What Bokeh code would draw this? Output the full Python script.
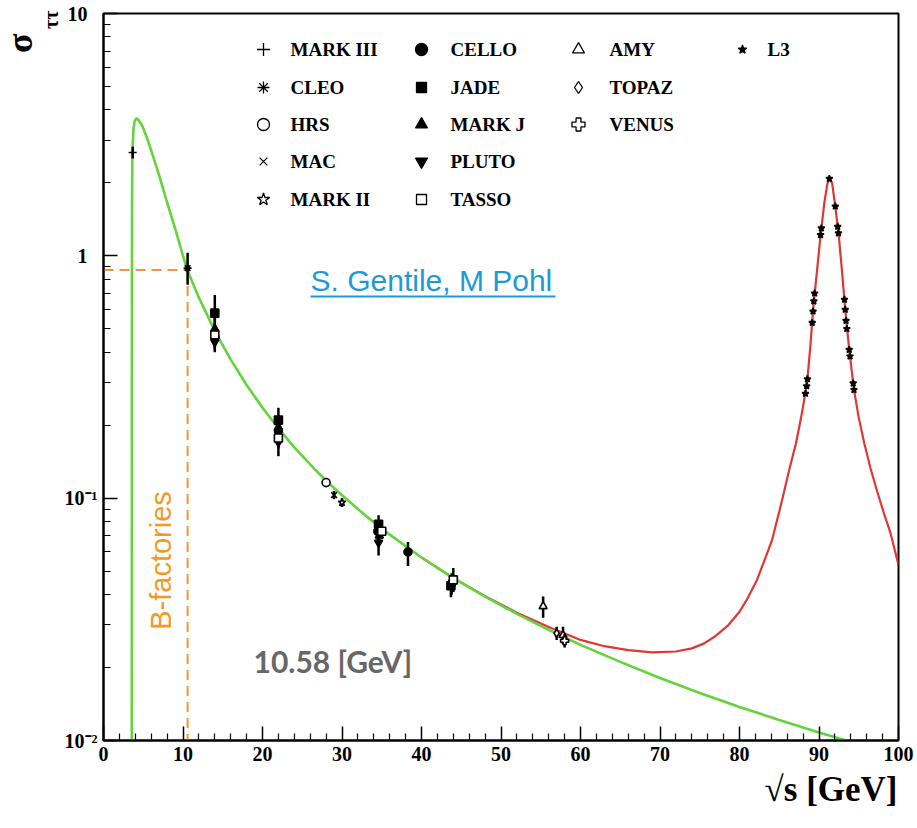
import math
from bokeh.plotting import figure
from bokeh.models import FixedTicker, Label, CustomJSTickFormatter, Title
from bokeh.embed import file_html
from bokeh.resources import INLINE

# ---------------- curves ----------------
QED_E = [3.555, 3.565, 3.575, 3.59, 3.62, 3.68, 3.78, 3.92, 4.15, 4.45, 4.86, 5.5, 6.0,
         7.0, 8.0, 9.0, 10.0, 10.58, 12.0, 14.0, 16.0, 18.0, 20.0, 22.0, 24.0, 26.5,
         28.0, 30.0, 33.0, 36.0, 40.0, 44.0, 48.0, 52.0, 56.0, 60.0, 65.0, 70.0, 75.0,
         80.0, 85.0, 90.0, 93.0, 95.0]
QED_SIGMA = [0.005, 0.2, 0.9, 1.6, 2.4, 2.9, 3.35, 3.6, 3.70, 3.62, 3.45, 3.05, 2.72,
             2.15, 1.66, 1.30, 1.0, 0.87, 0.672, 0.49, 0.373, 0.293, 0.236, 0.194, 0.162, 0.1325,
             0.118, 0.1028, 0.0845, 0.0707, 0.0569, 0.0468, 0.0392, 0.0333, 0.0286, 0.0248,
             0.0211, 0.0181, 0.0157, 0.01375, 0.01216, 0.0108, 0.0101, 0.00965]

Z_E = [40.0, 44.0, 48.0, 52.0, 56.0, 60.0, 63.0, 66.0, 69.0, 72.0, 74.0, 75.5, 77.0, 78.5,
       80.0, 81.0, 82.2, 83.2, 84.1, 85.0, 85.6, 86.3, 87.1, 87.8, 88.5, 88.9, 89.3, 89.8,
       90.2, 90.7, 91.05, 91.35, 91.65, 92.1, 92.5, 92.9, 93.3, 93.8, 94.4, 95.0, 95.7,
       96.5, 97.3, 98.2, 99.0, 100.0]
Z_SIGMA = [0.0569, 0.0469, 0.0394, 0.0337, 0.0294, 0.0260, 0.0245, 0.0236, 0.0231, 0.0233,
           0.0240, 0.0251, 0.0270, 0.0297, 0.0340, 0.0385, 0.0460, 0.0560, 0.0673, 0.088,
           0.106, 0.133, 0.168, 0.22, 0.298, 0.42, 0.62, 0.90, 1.22, 1.68, 1.98, 2.09, 2.0,
           1.55, 1.20, 0.86, 0.60, 0.41, 0.28, 0.215, 0.168, 0.132, 0.107, 0.086, 0.0717, 0.053]

BFAC_E = 10.58
BFAC_SIGMA = 0.875

# ---------------- measurements (sqrt(s), sigma, error low, error high) ----------------
MARK3_E, MARK3_S, MARK3_LO, MARK3_HI = [3.67], [2.67], [2.52], [2.82]
CLEO_E, CLEO_S, CLEO_LO, CLEO_HI = [10.58], [0.89], [0.76], [1.03]
HRS_E, HRS_S, HRS_LO, HRS_HI = [28.0], [0.116], [0.111], [0.121]
MAC_E, MAC_S, MAC_LO, MAC_HI = [29.0], [0.103], [0.099], [0.107]
MARK2_E, MARK2_S, MARK2_LO, MARK2_HI = [30.0], [0.096], [0.092], [0.100]
CELLO_E = [14.0, 22.0, 34.5, 38.3, 43.8]
CELLO_S = [0.46, 0.19, 0.073, 0.060, 0.0445]
CELLO_LO = [0.41, 0.165, 0.066, 0.0525, 0.040]
CELLO_HI = [0.51, 0.215, 0.080, 0.066, 0.049]
JADE_E = [14.0, 22.0, 34.6, 43.7]
JADE_S = [0.58, 0.21, 0.078, 0.0435]
JADE_LO = [0.48, 0.185, 0.071, 0.039]
JADE_HI = [0.69, 0.236, 0.085, 0.048]
MARKJ_E = [14.0, 22.0, 34.7]
MARKJ_S = [0.50, 0.196, 0.070]
MARKJ_LO = [0.42, 0.17, 0.064]
MARKJ_HI = [0.58, 0.22, 0.076]
PLUTO_E = [14.0, 22.0, 34.6]
PLUTO_S = [0.44, 0.17, 0.0655]
PLUTO_LO = [0.40, 0.149, 0.058]
PLUTO_HI = [0.48, 0.19, 0.072]
TASSO_E = [14.0, 22.0, 35.0, 44.0]
TASSO_S = [0.472, 0.177, 0.073, 0.046]
TASSO_LO = [0.43, 0.16, 0.068, 0.041]
TASSO_HI = [0.52, 0.195, 0.078, 0.0515]
AMY_E, AMY_S, AMY_LO, AMY_HI = [55.3, 57.8], [0.0358, 0.0272], [0.0321, 0.0250], [0.0393, 0.0295]
TOPAZ_E, TOPAZ_S, TOPAZ_LO, TOPAZ_HI = [57.0], [0.0277], [0.0260], [0.0295]
VENUS_E, VENUS_S, VENUS_LO, VENUS_HI = [58.0], [0.0258], [0.0242], [0.0276]
L3_E = [88.3, 88.45, 88.55, 89.15, 89.25, 89.35, 89.45, 90.2, 90.3, 91.3, 92.05, 92.35,
        92.45, 93.2, 93.3, 93.4, 93.5, 93.8, 93.9, 94.3, 94.4]
L3_S = [0.27, 0.29, 0.31, 0.53, 0.59, 0.65, 0.70, 1.22, 1.30, 2.08, 1.60, 1.32,
        1.24, 0.66, 0.60, 0.54, 0.50, 0.41, 0.385, 0.298, 0.28]

# ticks
X_MAJOR = [0, 10, 20, 30, 40, 50, 60, 70, 80, 90, 100]
X_LABELS = ["0", "10", "20", "30", "40", "50", "60", "70", "80", "90", "100"]
Y_MAJOR = [10, 1, 0.1, 0.01]
Y_LABELS = ["10\u2007", "1\u2007", "10\u207b\u00b9", "10\u207b\u00b2"]

# ---------------- layout / style ----------------
W, H = 917, 828
FRAME_L, FRAME_R, FRAME_T, FRAME_B = 103, 898, 13, 740
X_RANGE = (0, 100)
Y_RANGE = (0.01, 10)
GREEN = "#62d43c"
RED = "#e03636"
ORANGE = "#f39a1e"
BLUE = "#1d9ad6"
GREY = "#676767"
SERIF = "Liberation Serif"


def dx(px):
    return X_RANGE[0] + (px - FRAME_L) / (FRAME_R - FRAME_L) * (X_RANGE[1] - X_RANGE[0])


def dy(py):
    lo, hi = math.log10(Y_RANGE[0]), math.log10(Y_RANGE[1])
    return 10 ** (hi - (py - FRAME_T) / (FRAME_B - FRAME_T) * (hi - lo))


p = figure(width=W, height=H, x_range=X_RANGE, y_range=Y_RANGE, y_axis_type="log",
           output_backend="svg", toolbar_location=None,
           min_border_left=FRAME_L, min_border_right=W - FRAME_R,
           min_border_top=FRAME_T, min_border_bottom=H - FRAME_B)
p.title.visible = False
p.xgrid.visible = False
p.ygrid.visible = False
p.outline_line_color = "black"
p.outline_line_width = 2
p.background_fill_color = "white"
p.border_fill_color = "white"

x_minor = [v for v in range(0, 101, 2) if v % 10 != 0]
p.xaxis.ticker = FixedTicker(ticks=X_MAJOR, minor_ticks=x_minor)
p.xaxis.major_label_overrides = {t: l for t, l in zip(X_MAJOR, X_LABELS)}
y_minor = [m * 10.0 ** e for e in (-2, -1, 0) for m in range(2, 10)]
p.yaxis.ticker = FixedTicker(ticks=Y_MAJOR, minor_ticks=y_minor)
p.yaxis.formatter = CustomJSTickFormatter(args=dict(vals=Y_MAJOR, labs=Y_LABELS), code="""
    for (let i = 0; i < vals.length; i++) {
        if (Math.abs(Math.log10(tick) - Math.log10(vals[i])) < 1e-6) { return labs[i]; }
    }
    return '';
""")
for ax in (p.xaxis, p.yaxis):
    ax.axis_line_width = 2
    ax.axis_line_color = "black"
    ax.major_tick_in = 14
    ax.major_tick_out = 0
    ax.minor_tick_in = 7
    ax.minor_tick_out = 0
    ax.major_tick_line_width = 1.5
    ax.minor_tick_line_width = 1.2
    ax.major_tick_line_color = "black"
    ax.minor_tick_line_color = "black"
    ax.major_label_text_font = SERIF
    ax.major_label_text_font_style = "bold"
    ax.major_label_text_font_size = "20px"
    ax.major_label_text_color = "black"
p.xaxis.major_label_standoff = 6
p.yaxis.major_label_standoff = 6

# axis titles as plot titles placed at the ends of the axes
p.add_layout(Title(text="ττ", align="right", offset=-3, standoff=0, text_font=SERIF,
                   text_font_style="bold", text_font_size="20px", text_color="black"), "left")
p.add_layout(Title(text="σ", align="right", offset=20, standoff=-5, text_font=SERIF,
                   text_font_style="bold", text_font_size="36px", text_color="black"), "left")
p.add_layout(Title(text="√s [GeV]", align="right", offset=1, standoff=8, text_font=SERIF,
                   text_font_style="bold", text_font_size="35px", text_color="black"), "below")

# curves
p.line(Z_E, Z_SIGMA, line_color=RED, line_width=2.2)
p.line(QED_E, QED_SIGMA, line_color=GREEN, line_width=2.6)

# B-factory guide lines
p.line([X_RANGE[0], BFAC_E], [BFAC_SIGMA, BFAC_SIGMA], line_color=ORANGE, line_width=2,
       line_dash="10 6")
p.line([BFAC_E, BFAC_E], [BFAC_SIGMA, Y_RANGE[0]], line_color=ORANGE, line_width=2,
       line_dash="10 6")

# experiments: name, data, marker, filled, legend column, legend row
EXPERIMENTS = [
    ("MARK III", MARK3_E, MARK3_S, MARK3_LO, MARK3_HI, "cross", False, 0, 0),
    ("CLEO", CLEO_E, CLEO_S, CLEO_LO, CLEO_HI, "asterisk", False, 0, 1),
    ("HRS", HRS_E, HRS_S, HRS_LO, HRS_HI, "circle", False, 0, 2),
    ("MAC", MAC_E, MAC_S, MAC_LO, MAC_HI, "x", False, 0, 3),
    ("MARK II", MARK2_E, MARK2_S, MARK2_LO, MARK2_HI, "star", False, 0, 4),
    ("CELLO", CELLO_E, CELLO_S, CELLO_LO, CELLO_HI, "circle", True, 1, 0),
    ("JADE", JADE_E, JADE_S, JADE_LO, JADE_HI, "square", True, 1, 1),
    ("MARK J", MARKJ_E, MARKJ_S, MARKJ_LO, MARKJ_HI, "triangle", True, 1, 2),
    ("PLUTO", PLUTO_E, PLUTO_S, PLUTO_LO, PLUTO_HI, "inverted_triangle", True, 1, 3),
    ("TASSO", TASSO_E, TASSO_S, TASSO_LO, TASSO_HI, "square", False, 1, 4),
    ("AMY", AMY_E, AMY_S, AMY_LO, AMY_HI, "triangle", False, 2, 0),
    ("TOPAZ", TOPAZ_E, TOPAZ_S, TOPAZ_LO, TOPAZ_HI, "diamond", False, 2, 1),
    ("VENUS", VENUS_E, VENUS_S, VENUS_LO, VENUS_HI, "plus", False, 2, 2),
    ("L3", L3_E, L3_S, None, None, "star", True, 3, 0),
]
LEG_MARKER_PX = [263, 421, 578, 742]
LEG_TEXT_PX = [290, 450, 609, 767]
LEG_ROW_PX = [49, 87, 124, 161, 199]
LEG_SIZE = {"cross": 13, "asterisk": 12, "circle": 12, "x": 11, "star": 13, "square": 10,
            "triangle": 12, "inverted_triangle": 12, "diamond": 12, "plus": 13}

for name, xs, ys, lo, hi, marker, filled, col, row in EXPERIMENTS:
    if lo is not None:
        p.segment(x0=xs, y0=lo, x1=xs, y1=hi, line_color="black", line_width=2.5)
    fill = "black" if filled else "white"
    size = 7 if name == "L3" else 8
    p.scatter(xs, ys, marker=marker, size=size, line_color="black", fill_color=fill,
              line_width=1.6)
    # legend entry
    lsize = 9 if name == "L3" else LEG_SIZE[marker]
    p.scatter([dx(LEG_MARKER_PX[col])], [dy(LEG_ROW_PX[row])], marker=marker, size=lsize,
              line_color="black", fill_color=fill, line_width=1.3)
    p.add_layout(Label(x=dx(LEG_TEXT_PX[col]), y=dy(LEG_ROW_PX[row]), text=name,
                       text_font=SERIF, text_font_style="bold", text_font_size="19px",
                       text_baseline="middle", text_align="left", text_color="black"))

# annotations
p.add_layout(Label(x=dx(160), y=dy(560), text="B-factories", angle=math.pi / 2,
                   text_font="Liberation Sans", text_font_size="29px", text_align="center",
                   text_baseline="middle", text_color=ORANGE))
p.add_layout(Label(x=dx(310), y=dy(280), text="S. Gentile, M Pohl",
                   text_font="Liberation Sans", text_font_size="30px", text_align="left",
                   text_baseline="middle", text_color=BLUE))
p.line([dx(310), dx(555)], [dy(296), dy(296)], line_color=BLUE, line_width=2)
p.add_layout(Label(x=dx(253), y=dy(660), text="10.58 [GeV]", text_font="Lato",
                   text_font_style="bold", text_font_size="30px", text_align="left",
                   text_baseline="middle", text_color=GREY))

open("out.html", "w").write(file_html(p, INLINE))
